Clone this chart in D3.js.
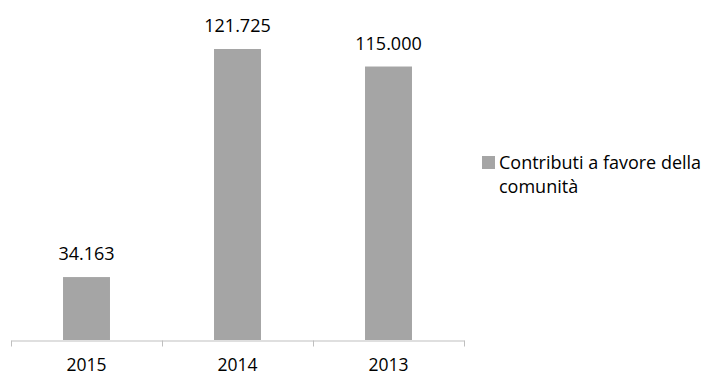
<html>
<head>
<script src="https://d3js.org/d3.v7.min.js"></script>
<style>
  body { margin: 0; background: #fff; }
  text { font-family: "Open Sans", sans-serif; fill: #000; }
</style>
</head>
<body>
<div id="chart"></div>
<script>
const years = ["2015", "2014", "2013"];
const values = [34163, 121725, 115000];
const labels = ["34.163", "121.725", "115.000"];
const seriesName = ["Contributi a favore della", "comunità"];

const w = 710, h = 376;
const barColor = "#a5a5a5";
const axisColor = "#bfbfbf";

const svg = d3.select("#chart").append("svg")
    .attr("width", w)
    .attr("height", h);

const x = d3.scaleBand()
    .domain(years)
    .range([11, 464])
    .paddingInner(0.689)
    .paddingOuter(0.3445);

const y = d3.scaleLinear()
    .domain([10000, 140000])
    .range([340, 1.4]);

// bars
svg.selectAll("rect.bar")
    .data(values)
    .enter()
    .append("rect")
    .attr("class", "bar")
    .attr("x", (d, i) => x(years[i]))
    .attr("y", d => y(d))
    .attr("width", x.bandwidth())
    .attr("height", d => y.range()[0] - y(d))
    .style("fill", barColor);

// value labels
svg.selectAll("text.value")
    .data(values)
    .enter()
    .append("text")
    .attr("class", "value")
    .attr("x", (d, i) => x(years[i]) + x.bandwidth() / 2)
    .attr("y", d => y(d) - 17)
    .attr("text-anchor", "middle")
    .style("font-size", "18px")
    .text((d, i) => labels[i]);

// x-axis
const axis = svg.append("g")
    .attr("transform", "translate(0, 340.5)")
    .call(d3.axisBottom(x).tickSize(0).tickPadding(18));
axis.select(".domain").attr("stroke", axisColor);
axis.selectAll("text").style("font-size", "17.5px").attr("fill", "#000");

const bounds = years.map(yr => x(yr) - x.step() * x.paddingInner() / 2)
    .concat([x.range()[1]]);
axis.selectAll("line.tick-mark")
    .data(bounds)
    .enter()
    .append("line")
    .attr("class", "tick-mark")
    .attr("x1", d => Math.round(d) + 0.5)
    .attr("x2", d => Math.round(d) + 0.5)
    .attr("y1", 0)
    .attr("y2", 6)
    .attr("stroke", axisColor);

// legend
svg.append("rect")
    .attr("x", 482)
    .attr("y", 156)
    .attr("width", 13)
    .attr("height", 13)
    .style("fill", barColor);

svg.append("text")
    .attr("x", 499)
    .attr("y", 169)
    .style("font-size", "18px")
    .selectAll("tspan")
    .data(seriesName)
    .enter()
    .append("tspan")
    .attr("x", 499)
    .attr("dy", (d, i) => i === 0 ? 0 : 24)
    .text(d => d);
</script>
</body>
</html>
